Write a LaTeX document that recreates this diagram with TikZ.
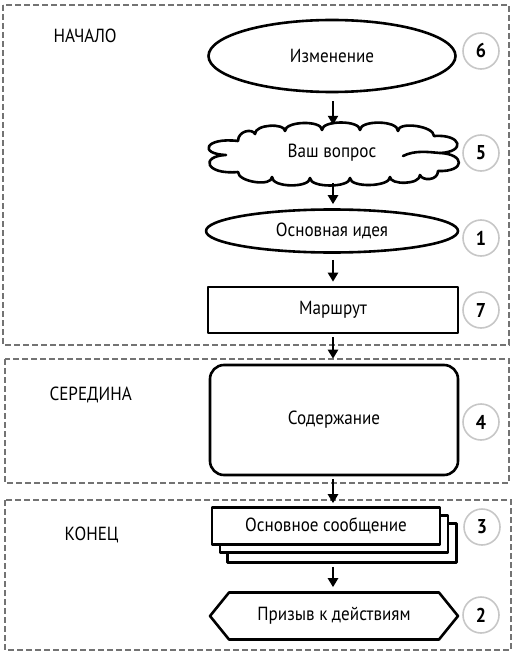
\documentclass[tikz,border=0pt]{standalone}
\usepackage{fontspec}
\setmainfont{PT Sans}
\newfontfamily\condfont[FakeStretch=0.9]{PT Sans}
\usetikzlibrary{shapes.geometric,shapes.symbols,arrows.meta}
\begin{document}
\begin{tikzpicture}[x=1pt,y=-1pt,
  shapeline/.style={draw=black,line width=2.6pt,fill=white,line join=round},
  shapetext/.style={font=\condfont\fontsize{19}{21}\selectfont},
  num/.style={circle,draw=black!22,line width=1.6pt,minimum size=36pt,inner sep=0pt,font=\condfont\bfseries\fontsize{20}{22}\selectfont},
  zone/.style={draw=black!55,line width=1.3pt,dash pattern=on 6pt off 3pt},
  zonelabel/.style={font=\condfont\fontsize{19}{21}\selectfont,anchor=west},
  flow/.style={-{Triangle[length=9pt,width=10pt]},line width=2.6pt}]
\useasboundingbox (0,0) rectangle (515,655);
% zones
\draw[zone] (3,5) rectangle (509,345);
\draw[zone] (5,359) rectangle (509,483);
\draw[zone] (5,500) rectangle (511,650);
\node[zonelabel] (lstart) at (50,36) {НАЧАЛО};
\node[zonelabel] (lmid) at (46,395) {СЕРЕДИНА};
\node[zonelabel] (lend) at (61,535) {КОНЕЦ};
% shapes
\node[shapeline,shapetext,ellipse,minimum width=247pt,minimum height=72pt] (change) at (332,56) {Изменение};
% cloud
\draw[shapeline] (434,136)
  .. controls (434,126) and (398,121) .. (398,131)
  .. controls (398,120) and (360,120) .. (360,130)
  .. controls (360,120) and (322,120) .. (322,130)
  .. controls (322,120) and (285,121) .. (285,131)
  .. controls (285,123) and (255,124) .. (255,134)
  .. controls (252,128) and (238,131) .. (238,141)
  .. controls (205,137) and (198,154) .. (226,155)
  .. controls (200,156) and (205,175) .. (238,172)
  .. controls (238,182) and (272,187) .. (272,177)
  .. controls (272,188) and (310,188) .. (310,178)
  .. controls (310,188) and (350,188) .. (350,178)
  .. controls (350,188) and (390,187) .. (390,177)
  .. controls (390,185) and (420,185) .. (420,175)
  .. controls (422,181) and (438,181) .. (438,171)
  .. controls (466,172) and (465,154) .. (440,153)
  .. controls (466,152) and (462,134) .. (434,136) -- cycle;
\draw[shapeline,fill=none,line cap=round] (403,156) .. controls (415,150) and (428,152) .. (440,153);
\node[shapetext,minimum width=250pt,minimum height=50pt] (question) at (332,153) {Ваш вопрос};
\node[shapeline,shapetext,ellipse,minimum width=252pt,minimum height=43pt] (idea) at (332,231) {Основная идея};
\node[shapeline,shapetext,rectangle,minimum width=250pt,minimum height=46pt] (route) at (333,310) {Маршрут};
\node[shapeline,shapetext,rectangle,rounded corners=14pt,minimum width=248pt,minimum height=110pt] (content) at (334,420) {Содержание};
\node[shapeline,rectangle,minimum width=229pt,minimum height=39pt] (msg3) at (342,543) {};
\node[shapeline,rectangle,minimum width=228pt,minimum height=37pt] (msg2) at (334,534) {};
\node[shapeline,shapetext,rectangle,minimum width=228pt,minimum height=37pt] (msg) at (326,526) {Основное сообщение};
\node[shapeline,shapetext,signal,signal to=west and east,signal pointer angle=102,minimum width=248pt,minimum height=47pt,inner xsep=2pt] (action) at (334,616) {Призыв к действиям};
% numbers
\node[num] (n6) at (481,51) {6};
\node[num] (n5) at (481,153) {5};
\node[num] (n1) at (481,238) {1};
\node[num] (n7) at (481,310) {7};
\node[num] (n4) at (481,422) {4};
\node[num] (n3) at (482,527) {3};
\node[num] (n2) at (481,615) {2};
% arrows
\draw[flow,shorten <=8pt,shorten >=3pt] (route.north |- change.south) -- (route.north |- question.north);
\draw[flow,shorten <=5pt,shorten >=4pt] (route.north |- question.south) -- (route.north |- idea.north);
\draw[flow,shorten <=6pt,shorten >=4pt] (route.north |- idea.south) -- (route.north);
\draw[flow,shorten <=3pt,shorten >=5pt] (route.south) -- (route.south |- content.north);
\draw[flow,shorten <=3pt,shorten >=3pt] (route.south |- content.south) -- (route.south |- msg.north);
\draw[flow,shorten <=3pt,shorten >=4pt] (route.south |- msg3.south) -- (route.south |- action.north);
\end{tikzpicture}
\end{document}
